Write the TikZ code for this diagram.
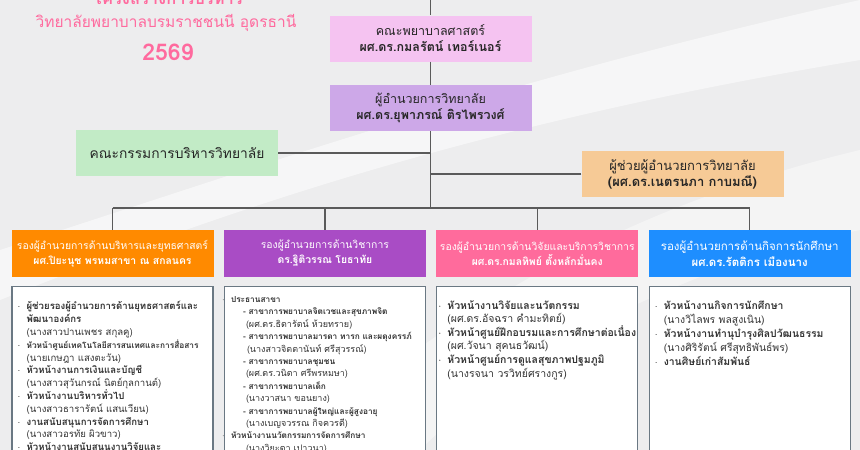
\documentclass[tikz,border=0pt]{standalone}
\usepackage{fontspec}
\setmainfont{Loma}[Script=Thai]
\usetikzlibrary{positioning}

\definecolor{bggray}{HTML}{EDEDEE}
\definecolor{titlepink}{HTML}{FF6A9E}
\definecolor{facultyfill}{HTML}{F5C3F1}
\definecolor{directorfill}{HTML}{CDA8E8}
\definecolor{committeefill}{HTML}{C2EBC6}
\definecolor{assistfill}{HTML}{F6CA96}
\definecolor{headorange}{HTML}{FF8A00}
\definecolor{headpurple}{HTML}{A94CC5}
\definecolor{headpink}{HTML}{FF6B9C}
\definecolor{headblue}{HTML}{1E8EFF}
\definecolor{linegray}{HTML}{5A5A5A}
\definecolor{framegray}{HTML}{6A7883}

\newcommand{\dotitem}{\makebox[9pt][l]{$\cdot$}}
\newcommand{\branch}[1]{{\fontsize{8.3}{12.4}\selectfont\textbf{#1}}}

\begin{document}
\begin{tikzpicture}[x=1pt, y=-1pt,
  topbox/.style={minimum width=202pt, minimum height=46pt, inner sep=0pt, align=center, text=black!85, font=\fontsize{13}{16}\selectfont},
  headbox/.style={minimum width=202pt, minimum height=47pt, inner sep=0pt, align=center, text=white, font=\fontsize{10.4}{15}\selectfont},
  listbox/.style={draw=framegray, line width=1.2pt, fill=white, minimum width=201pt, minimum height=200pt},
  listtext/.style={anchor=north west, align=left, inner sep=0pt, text=black!80},
  link/.style={draw=linegray, line width=1.4pt}]

    % background
    \useasboundingbox (0,0) rectangle (860,450);
    \fill[bggray] (0,0) rectangle (860,450);
    \fill[white, opacity=0.55] (0,300) .. controls (250,200) and (500,120) .. (860,60) -- (860,0) .. controls (500,80) and (250,170) .. (0,250) -- cycle;
    \fill[white, opacity=0.4] (300,450) .. controls (450,300) and (650,200) .. (860,150) -- (860,230) .. controls (700,260) and (520,350) .. (420,450) -- cycle;

    % title
    \node[anchor=base, text=titlepink, font=\fontsize{16.5}{20}\selectfont\bfseries] (titletop) at (168,4) {โครงสร้างการบริหาร};
    \node[text=titlepink, font=\fontsize{15.5}{18}\selectfont] (titlecollege) at (166,23) {วิทยาลัยพยาบาลบรมราชชนนี อุดรธานี};
    \node[text=titlepink, font=\fontsize{23}{26}\selectfont\bfseries] (titleyear) at (168,52) {2569};

    % top of chart
    \coordinate (topend) at (430.5,0);
    \node[topbox, fill=facultyfill, font=\fontsize{12.5}{16}\selectfont] (faculty) at (430.5,38.5) {คณะพยาบาลศาสตร์\\\textbf{ผศ.ดร.กมลรัตน์ เทอร์เนอร์}};
    \node[topbox, fill=directorfill, font=\fontsize{12.5}{16}\selectfont, below=23pt of faculty] (director) {ผู้อำนวยการวิทยาลัย\\\textbf{ผศ.ดร.ยุพาภรณ์ ติรไพรวงศ์}};
    \node[topbox, fill=committeefill, font=\fontsize{13.8}{16}\selectfont] (committee) at (177,153) {คณะกรรมการบริหารวิทยาลัย};
    \node[topbox, fill=assistfill] (assistant) at (682.5,174) {ผู้ช่วยผู้อำนวยการวิทยาลัย\\\textbf{(ผศ.ดร.เนตรนภา กาบมณี)}};
    \coordinate (bus) at ([yshift=-77pt]director.south);

    % deputy directors
    \node[headbox, fill=headorange] (strategy) at (112.5,253.5) {รองผู้อำนวยการด้านบริหารและยุทธศาสตร์\\\textbf{ผศ.ปิยะนุช พรหมสาขา ณ สกลนคร}};
    \node[headbox, fill=headpurple, right=10pt of strategy] (academic) {รองผู้อำนวยการด้านวิชาการ\\\textbf{ดร.ฐิติวรรณ โยธาทัย}};
    \node[headbox, fill=headpink, right=10pt of academic] (research) {รองผู้อำนวยการด้านวิจัยและบริการวิชาการ\\\textbf{ผศ.ดร.กมลทิพย์ ตั้งหลักมั่นคง}};
    \node[headbox, fill=headblue, right=10pt of research, font=\fontsize{11.5}{15.5}\selectfont] (student) {รองผู้อำนวยการด้านกิจการนักศึกษา\\\textbf{ผศ.ดร.รัตติกร เมืองนาง}};

    \path[link]
        (topend) -- (faculty)
        (faculty) -- (director)
        (director) -- (bus)
        (committee.east) -- (committee.east -| bus)
        (assistant.west) -- (assistant.west -| bus)
        (strategy.north |- bus) -- (student.north |- bus)
        (strategy.north |- bus) -- (strategy.north)
        (academic.north |- bus) -- (academic.north)
        (research.north |- bus) -- (research.north)
        (student.north |- bus) -- (student.north)
        ;

    % lists
    \node[listbox, anchor=north, below=9pt of strategy] (strategylist) {};
    \node[listbox, anchor=north, below=9pt of academic] (academiclist) {};
    \node[listbox, anchor=north, below=9pt of research] (researchlist) {};
    \node[listbox, anchor=north, below=9pt of student] (studentlist) {};

    \node[listtext, font=\fontsize{9.6}{12.8}\selectfont] (strategyitems) at ([xshift=6pt,yshift=-15pt]strategylist.north west) {
        \dotitem\textbf{ผู้ช่วยรองผู้อำนวยการด้านยุทธศาสตร์และ}\\
        \hspace*{9pt}\textbf{พัฒนาองค์กร}\\
        \hspace*{9pt}(นางสาวปานเพชร สกุลคู)\\
        \dotitem{\fontsize{8.3}{12.8}\selectfont\textbf{หัวหน้าศูนย์เทคโนโลยีสารสนเทศและการสื่อสาร}}\\
        \hspace*{9pt}(นายเกษฎา แสงตะวัน)\\
        \dotitem\textbf{หัวหน้างานการเงินและบัญชี}\\
        \hspace*{9pt}(นางสาวสุวันกรณ์ นิตย์กุลกานต์)\\
        \dotitem\textbf{หัวหน้างานบริหารทั่วไป}\\
        \hspace*{9pt}(นางสาวธารารัตน์ แสนเวียน)\\
        \dotitem\textbf{งานสนับสนุนการจัดการศึกษา}\\
        \hspace*{9pt}(นางสาวอรทัย ผิวขาว)\\
        \dotitem\textbf{หัวหน้างานสนับสนุนงานวิจัยและ}};

    \node[listtext, font=\fontsize{9}{12.4}\selectfont] (academicitems) at ([xshift=-2pt,yshift=-10pt]academiclist.north west) {
        \dotitem\branch{ประธานสาขา}\\
        \hspace*{21pt}\branch{- สาขาการพยาบาลจิตเวชและสุขภาพจิต}\\
        \hspace*{24pt}(ผศ.ดร.ธิดารัตน์ ห้วยทราย)\\
        \hspace*{21pt}\branch{- สาขาการพยาบาลมารดา ทารก และผดุงครรภ์}\\
        \hspace*{25pt}(นางสาวจิตตานันท์ ศรีสุวรรณ์)\\
        \hspace*{21pt}\branch{- สาขาการพยาบาลชุมชน}\\
        \hspace*{24pt}(ผศ.ดร.วนิดา ศรีพรหมษา)\\
        \hspace*{21pt}\branch{- สาขาการพยาบาลเด็ก}\\
        \hspace*{24pt}(นางวาสนา ขอนยาง)\\
        \hspace*{21pt}\branch{- สาขาการพยาบาลผู้ใหญ่และผู้สูงอายุ}\\
        \hspace*{24pt}(นางเบญจวรรณ กิจควรดี)\\
        \dotitem\branch{หัวหน้างานนวัตกรรมการจัดการศึกษา}\\
        \hspace*{24pt}(นางวิยะดา เปาวนา)};

    \node[listtext, font=\fontsize{10.5}{13.6}\selectfont] (researchitems) at ([xshift=2pt,yshift=-14pt]researchlist.north west) {
        \dotitem\textbf{หัวหน้างานวิจัยและนวัตกรรม}\\
        \hspace*{9pt}(ผศ.ดร.อัจฉรา คำมะทิตย์)\\
        \dotitem\textbf{หัวหน้าศูนย์ฝึกอบรมและการศึกษาต่อเนื่อง}\\
        \hspace*{9pt}(ผศ.วัจนา สุคนธวัฒน์)\\
        \dotitem\textbf{หัวหน้าศูนย์การดูแลสุขภาพปฐมภูมิ}\\
        \hspace*{9pt}(นางรจนา วรวิทย์ศรางกูร)};

    \node[listtext, font=\fontsize{10.4}{14}\selectfont] (studentitems) at ([xshift=6pt,yshift=-14pt]studentlist.north west) {
        \dotitem\textbf{หัวหน้างานกิจการนักศึกษา}\\
        \hspace*{9pt}(นางวิไลพร พลสูงเนิน)\\
        \dotitem\textbf{หัวหน้างานทำนุบำรุงศิลปวัฒนธรรม}\\
        \hspace*{9pt}(นางศิริรัตน์ ศรีสุทธิพันธ์พร)\\
        \dotitem\textbf{งานศิษย์เก่าสัมพันธ์}};

\end{tikzpicture}
\end{document}
